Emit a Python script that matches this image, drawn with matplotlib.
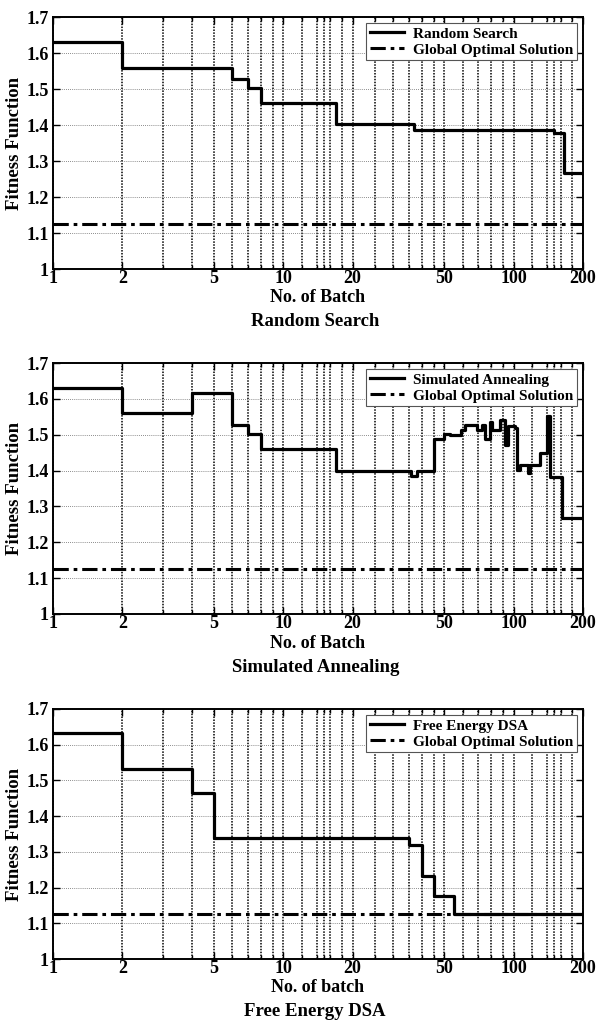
import matplotlib
matplotlib.use("Agg")
import matplotlib.pyplot as plt
from matplotlib.ticker import FixedLocator, NullFormatter, FixedFormatter

plt.rcParams['font.family'] = ['Liberation Serif', 'DejaVu Serif']
plt.rcParams['font.weight'] = 'bold'

# ---------------- data ----------------
rs_x = [1, 2, 6, 7, 8, 17, 37, 149, 166]
rs_y = [1.630, 1.558, 1.527, 1.503, 1.460, 1.402, 1.385, 1.378, 1.268]

sa_x = [1, 2, 4, 6, 7, 8, 17, 36, 38, 45, 50, 53, 59, 61.5, 69, 72.6, 75, 79, 80.3,
        87, 91.5, 94.8, 101, 103.6, 106.6, 115, 118, 129.5, 140.2, 144.5, 162]
sa_y = [1.630, 1.560, 1.615, 1.528, 1.503, 1.460, 1.400, 1.385, 1.400, 1.487, 1.502,
        1.499, 1.514, 1.526, 1.514, 1.526, 1.489, 1.536, 1.513, 1.540, 1.471, 1.524,
        1.520, 1.401, 1.415, 1.392, 1.415, 1.448, 1.552, 1.382, 1.268]

fe_x = [1, 2, 4, 5, 35, 40, 45, 55]
fe_y = [1.633, 1.531, 1.464, 1.340, 1.318, 1.233, 1.177, 1.125]

global_opt = 1.125
x_end = 200

major_ticks = [1, 2, 5, 10, 20, 50, 100, 200]
major_labels = ['1', '2', '5', '10', '20', '50', '100', '200']
minor_ticks = [3, 4, 6, 7, 8, 9, 12, 14, 15, 16, 18, 25, 30, 35, 40, 45,
               60, 70, 80, 90, 120, 140, 150, 160, 180]
y_ticks = [1, 1.1, 1.2, 1.3, 1.4, 1.5, 1.6, 1.7]
y_labels = ['1', '1.1', '1.2', '1.3', '1.4', '1.5', '1.6', '1.7']

panels = [
    (rs_x, rs_y, 'Random Search', 'No. of Batch', 'Random Search'),
    (sa_x, sa_y, 'Simulated Annealing', 'No. of Batch', 'Simulated Annealing'),
    (fe_x, fe_y, 'Free Energy DSA', 'No. of batch', 'Free Energy DSA'),
]

W, H = 597, 1023
fig = plt.figure(figsize=(W / 100, H / 100), dpi=100)

# (top, bottom) pixel positions of each axes
boxes = [(17, 269), (363, 614), (709, 959)]
left_px, right_px = 53, 583

for (xs, ys, name, xl, cap), (tp, bt) in zip(panels, boxes):
    ax_h = bt - tp
    ax_w = right_px - left_px
    ax = fig.add_axes([left_px / W, 1 - bt / H, ax_w / W, ax_h / H])
    ax.set_xscale('log')
    sx = list(xs) + [x_end]
    sy = list(ys) + [ys[-1]]
    ax.step(sx, sy, where='post', color='black', lw=2.3, label=name, zorder=3)
    ax.plot([1, x_end], [global_opt, global_opt], color='black', lw=2.2,
            linestyle=(0, (5, 1.6, 1.2, 1.6)), label='Global Optimal Solution', zorder=3)
    ax.set_xlim(1, 200)
    ax.set_ylim(1, 1.7)
    ax.xaxis.set_major_locator(FixedLocator(major_ticks))
    ax.xaxis.set_major_formatter(FixedFormatter(major_labels))
    ax.xaxis.set_minor_locator(FixedLocator(minor_ticks))
    ax.xaxis.set_minor_formatter(NullFormatter())
    ax.yaxis.set_major_locator(FixedLocator(y_ticks))
    ax.yaxis.set_major_formatter(FixedFormatter(y_labels))
    ax.grid(True, which='both', axis='x', color='black', linestyle=(0, (1, 0.9)), lw=1.1)
    ax.grid(True, which='major', axis='y', color='#666666', linestyle=(0, (1, 1.5)), lw=0.6)
    ax.tick_params(which='both', direction='in', top=True, right=True,
                   labelsize=13, width=1.0, pad=1)
    ax.tick_params(which='major', length=5)
    ax.tick_params(which='minor', length=3)
    ax.tick_params(axis='y', pad=3)
    for s in ax.spines.values():
        s.set_linewidth(1.4)
    for lab in ax.get_xticklabels() + ax.get_yticklabels():
        lab.set_fontweight('bold')
    ax.set_xlabel(xl, fontsize=13, fontweight='bold', va='center')
    ax.xaxis.set_label_coords((318 - left_px) / ax_w, -29 / ax_h)
    ax.set_ylabel('Fitness Function', fontsize=13.5, fontweight='bold', va='center')
    ax.yaxis.set_label_coords((15 - left_px) / ax_w, 0.5)
    leg = ax.legend(loc='upper right', fontsize=11, frameon=True, fancybox=False,
                    edgecolor='#555555', framealpha=1, handlelength=2.2,
                    borderaxespad=0.4, borderpad=0.25, labelspacing=0.15,
                    handletextpad=0.6)
    leg.get_frame().set_linewidth(0.8)
    for t in leg.get_texts():
        t.set_fontweight('bold')
    fig.text(0.528, 1 - (bt + 53) / H, cap, ha='center', va='center',
             fontsize=13.5, fontweight='bold')

fig.savefig('out.png', dpi=100)
